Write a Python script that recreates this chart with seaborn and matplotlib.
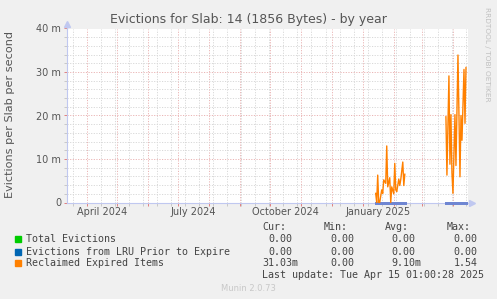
import matplotlib
matplotlib.use("Agg")
import numpy as np
import pandas as pd
import seaborn as sns
import matplotlib.pyplot as plt
import matplotlib.dates as mdates
import matplotlib.transforms as mtrans

# ---------------- data ----------------
series_names = ["Total Evictions", "Evictions from LRU Prior to Expire", "Reclaimed Expired Items"]
series_colors = ["#00cc00", "#0066b3", "#ff8000"]

seg1_dates = ["2025-01-14", "2025-01-15", "2025-01-16", "2025-01-17", "2025-01-18", "2025-01-20",
              "2025-01-21", "2025-01-22", "2025-01-24", "2025-01-25", "2025-01-26", "2025-01-28",
              "2025-01-29", "2025-01-30", "2025-02-01", "2025-02-02", "2025-02-03", "2025-02-04",
              "2025-02-06", "2025-02-07", "2025-02-08", "2025-02-10", "2025-02-11", "2025-02-12"]
seg1_reclaimed = [2.1, 0.0, 6.3, 0.0, 0.0, 2.9,
                  2.1, 5.2, 4.4, 13.0, 3.6, 5.7,
                  0.0, 3.6, 2.0, 9.0, 2.9, 2.5,
                  5.4, 3.9, 5.3, 9.3, 3.9, 6.5]

seg2_dates = ["2025-03-25", "2025-03-26", "2025-03-28", "2025-03-29", "2025-03-30", "2025-03-31",
              "2025-04-01", "2025-04-03", "2025-04-04", "2025-04-06", "2025-04-08", "2025-04-09",
              "2025-04-10", "2025-04-12", "2025-04-13", "2025-04-14"]
seg2_reclaimed = [19.7, 6.3, 29.1, 8.8, 20.2, 6.8,
                  2.1, 20.2, 8.5, 33.9, 5.9, 20.0,
                  14.3, 30.6, 18.2, 31.03]

y_ticks = [0, 10, 20, 30, 40]
y_tick_labels = ["0", "10 m", "20 m", "30 m", "40 m"]
month_labels = ["April 2024", "July 2024", "October 2024", "January 2025"]
month_label_dates = ["2024-04-16", "2024-07-16", "2024-10-16", "2025-01-16"]

stat_headers = ["Cur:", "Min:", "Avg:", "Max:"]
stat_cur = ["0.00", "0.00", "31.03m"]
stat_min = ["0.00", "0.00", "0.00"]
stat_avg = ["0.00", "0.00", "9.10m"]
stat_max = ["0.00", "0.00", "1.54"]
last_update = "Last update: Tue Apr 15 01:00:28 2025"

# ---------------- build table ----------------
rows = []
for seg_id, (dts, vals) in enumerate([(seg1_dates, seg1_reclaimed), (seg2_dates, seg2_reclaimed)]):
    for d, v in zip(dts, vals):
        rows.append((pd.Timestamp(d), 0.0, series_names[0], seg_id))
        rows.append((pd.Timestamp(d), 0.0, series_names[1], seg_id))
        rows.append((pd.Timestamp(d), v, series_names[2], seg_id))
df = pd.DataFrame(rows, columns=["date", "value", "series", "segment"])

# ---------------- figure ----------------
W, H = 497, 299
fig = plt.figure(figsize=(W / 100, H / 100), dpi=100, facecolor="#f0f0f0")
L, R, T, B = 66.7, 468.0, 28.5, 202.5
ax = fig.add_axes([L / W, 1 - B / H, (R - L) / W, (B - T) / H])
ax.set_facecolor("white")

for i, name in enumerate(series_names):
    n_before = len(ax.lines)
    sub = df[df["series"] == name]
    sns.lineplot(data=sub, x="date", y="value", units="segment", estimator=None,
                 color=series_colors[i], lw=1.0 if i == 2 else 0.75, ax=ax, legend=False)
    for ln in ax.lines[n_before:]:
        ln.set_zorder(5 + i)
        ln.set_clip_on(i == 2)
        if i < 2:
            ln.set_antialiased(False)
            if i == 1:
                ln.set_color("#6f86d2")

ax.set_xlim(pd.Timestamp("2024-03-12"), pd.Timestamp("2025-04-16"))
ax.set_ylim(0, 40)
ax.set_xlabel("")
ax.set_ylabel("")

# grid
major_c = "#eab4b4"
minor_c = "#d8d8d8"
ax.xaxis.set_major_locator(mdates.MonthLocator())
ax.xaxis.set_minor_locator(mdates.WeekdayLocator(byweekday=mdates.MO, interval=2))
ax.xaxis.set_major_formatter(plt.NullFormatter())
ax.set_yticks(y_ticks)
ax.set_yticklabels(y_tick_labels)
ax.yaxis.set_minor_locator(plt.MultipleLocator(2))
ax.grid(which="minor", color=minor_c, linestyle=(0, (1.2, 1.5)), lw=0.7, zorder=0)
ax.grid(which="major", color=major_c, linestyle=(0, (1.2, 1.5)), lw=0.7, zorder=0)
ax.set_axisbelow(True)
ax.tick_params(axis="both", which="major", length=2, width=0.7, color="#e08080",
               labelsize=7, labelcolor="#555555", pad=2)
ax.tick_params(axis="both", which="minor", length=2, width=0.7, color="#c8c8c8")

for s in ["top", "right"]:
    ax.spines[s].set_visible(False)
for s in ["left", "bottom"]:
    ax.spines[s].set_color("#c0c8f0")
    ax.spines[s].set_linewidth(0.8)
    ax.spines[s].set_zorder(2)

# axis arrows
ax.plot([1.01], [0], marker=">", ms=5, color="#c0c8f0", transform=ax.transAxes, clip_on=False)
ax.plot([0], [1.025], marker="^", ms=5, color="#c0c8f0", transform=ax.transAxes, clip_on=False)
ax.plot([1.0, 1.01], [0, 0], color="#c0c8f0", lw=0.8, transform=ax.transAxes, clip_on=False)
ax.plot([0, 0], [1.0, 1.025], color="#c0c8f0", lw=0.8, transform=ax.transAxes, clip_on=False)

# month labels
trans = mtrans.blended_transform_factory(ax.transData, fig.transFigure)
for lab, d in zip(month_labels, month_label_dates):
    ax.text(mdates.date2num(pd.Timestamp(d)), 1 - 212 / H, lab, transform=trans,
            ha="center", va="center", fontsize=7, color="#555555")

def ftext(x, y, s, **kw):
    fig.text(x / W, 1 - y / H, s, **kw)

ftext(248.5, 19, "Evictions for Slab: 14 (1856 Bytes) - by year", ha="center", va="center",
      fontsize=9, color="#555555")
ftext(10, 115, "Evictions per Slab per second", rotation=90, ha="center", va="center",
      fontsize=8.1, color="#555555")
ftext(487, 54, "RRDTOOL / TOBI OETIKER", rotation=270, ha="center", va="center",
      fontsize=5.3, color="#c0c0c0")
ftext(248, 288.5, "Munin 2.0.73", ha="center", va="center", fontsize=6, color="#c8c8c8")

mono = dict(family="DejaVu Sans Mono", fontsize=7.2, color="#444444", va="center")
row_y = [239.3, 251.7, 263.3]
for i, name in enumerate(series_names):
    fig.patches.append(plt.Rectangle(((14.5) / W, 1 - (row_y[i] + 3) / H), 6 / W, 6 / H,
                                     transform=fig.transFigure, color=series_colors[i]))
    ftext(26, row_y[i], name, **mono)

col_hdr_x = [262.7, 324, 385, 446.7]
for hx, h in zip(col_hdr_x, stat_headers):
    ftext(hx, 227.3, h, **mono)
col_val_x = [[268.3, 268.3, 262.7], [330, 330, 330], [391, 391, 391], [453.3, 453.3, 453.3]]
for ci, col in enumerate([stat_cur, stat_min, stat_avg, stat_max]):
    for ri, v in enumerate(col):
        ftext(col_val_x[ci][ri], row_y[ri], v, **mono)
ftext(261.7, 275, last_update, **mono)

fig.savefig("out.png", dpi=100, facecolor=fig.get_facecolor())
